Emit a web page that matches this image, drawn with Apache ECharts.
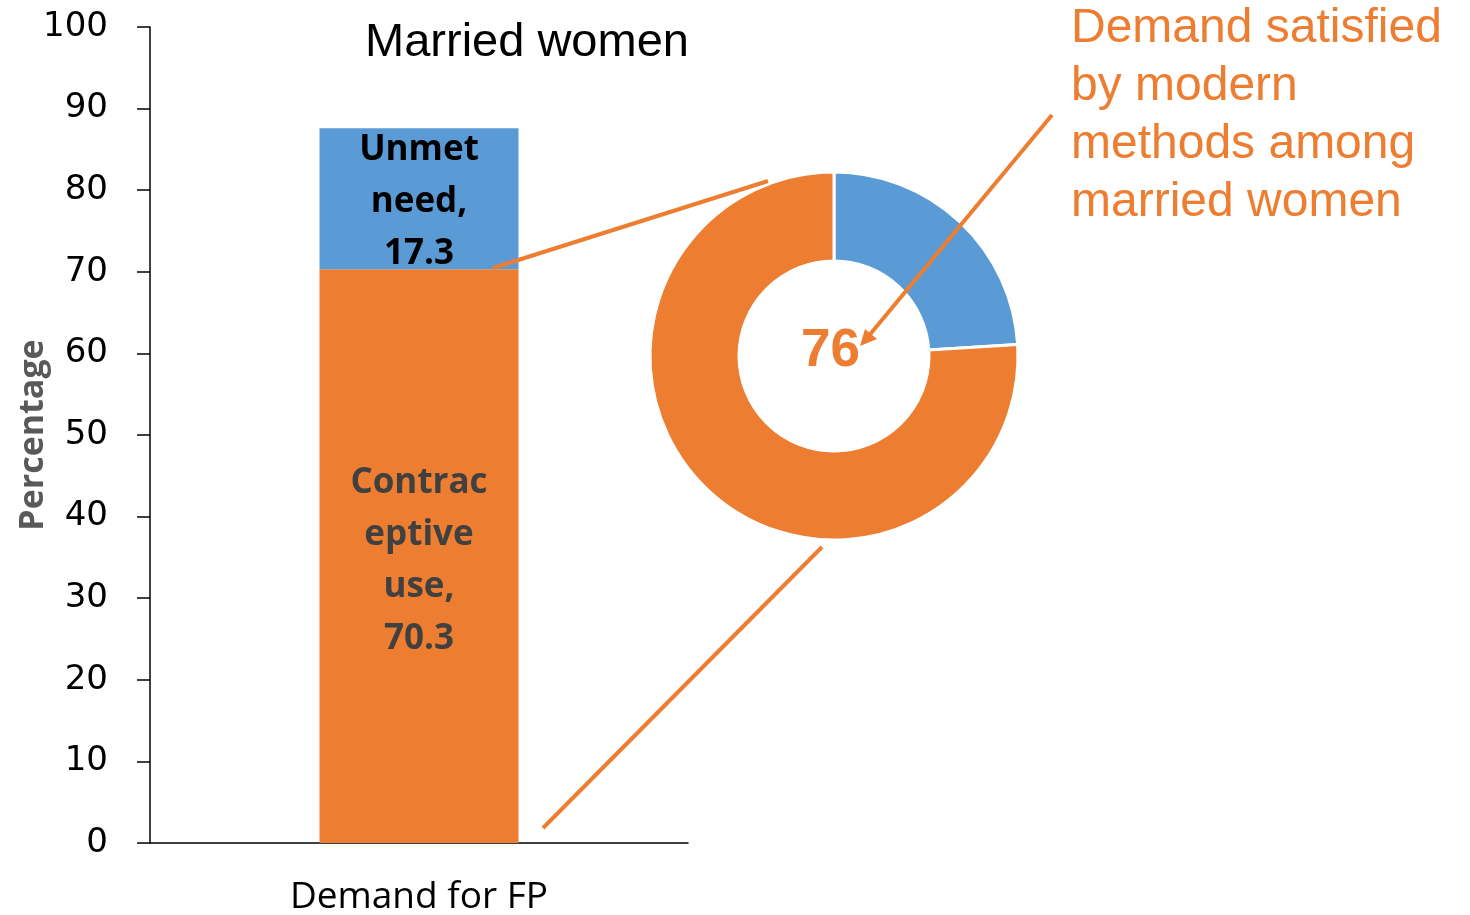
<!DOCTYPE html>
<html>
<head>
<meta charset="utf-8">
<script src="https://cdn.jsdelivr.net/npm/echarts@6/dist/echarts.min.js"></script>
<style>
  html, body { margin: 0; padding: 0; background: #fff; }
  #chart { width: 1470px; height: 915px; }
</style>
</head>
<body>
<div id="chart"></div>
<script>
    // data
    var categories = ['Demand for FP'];
    var contraceptiveUse = [70.3];
    var unmetNeed = [17.3];
    var satisfiedNames = ['Not satisfied', 'Satisfied by modern methods'];
    var satisfiedValues = [24, 76];

    var orange = '#ED7D31';
    var blue = '#5B9BD5';

    var myChart = echarts.init(document.getElementById('chart'));

    var option = {
        backgroundColor: '#fff',
        animation: false,
        title: {
            text: 'Married women',
            left: 522,
            top: 15,
            textAlign: 'center',
            textStyle: { fontFamily: 'Liberation Sans', fontSize: 47, fontWeight: 'normal', color: '#000' }
        },
        grid: { left: 150, right: 782, top: 27, bottom: 72, outerBoundsMode: 'none' },
        xAxis: {
            type: 'category',
            data: categories,
            axisLine: { lineStyle: { color: '#000', width: 1.5 } },
            axisTick: { show: false },
            axisLabel: { fontFamily: 'Open Sans', fontSize: 37, color: '#000', margin: 36 }
        },
        yAxis: {
            type: 'value',
            min: 0,
            max: 100,
            interval: 10,
            name: 'Percentage',
            nameLocation: 'middle',
            nameGap: 100,
            nameMoveOverlap: false,
            nameTextStyle: { fontFamily: 'Open Sans', fontSize: 34, fontWeight: 'bold', color: '#595959' },
            splitLine: { show: false },
            axisLine: { show: true, lineStyle: { color: '#000', width: 1.5 } },
            axisTick: { show: true, length: 13, lineStyle: { color: '#000', width: 1.5 } },
            axisLabel: { fontFamily: 'DejaVu Sans', fontSize: 34, color: '#000', margin: 42, padding: [8, 0, 0, 0] }
        },
        series: [
            {
                name: 'Contraceptive use',
                type: 'bar',
                stack: 'demand',
                barWidth: 199,
                data: contraceptiveUse,
                itemStyle: { color: orange },
                label: {
                    show: true,
                    position: 'inside',
                    formatter: function (p) { return 'Contrac\neptive\nuse,\n' + p.value; },
                    fontFamily: 'Open Sans',
                    fontSize: 35,
                    fontWeight: 'bold',
                    lineHeight: 52,
                    color: '#404040',
                    offset: [0, 5]
                }
            },
            {
                name: 'Unmet need',
                type: 'bar',
                stack: 'demand',
                barWidth: 199,
                data: unmetNeed,
                itemStyle: { color: blue },
                label: {
                    show: true,
                    position: 'inside',
                    formatter: function (p) { return 'Unmet\nneed,\n' + p.value; },
                    fontFamily: 'Open Sans',
                    fontSize: 35,
                    fontWeight: 'bold',
                    lineHeight: 52,
                    color: '#000',
                    offset: [0, 3]
                }
            },
            {
                name: 'Demand satisfied',
                type: 'pie',
                center: [834, 356],
                radius: [95, 184],
                startAngle: 90,
                clockwise: true,
                label: { show: false },
                labelLine: { show: false },
                itemStyle: { borderColor: '#fff', borderWidth: 3 },
                data: satisfiedNames.map(function (n, i) {
                    return { name: n, value: satisfiedValues[i], itemStyle: { color: i === 0 ? blue : orange } };
                })
            }
        ],
        graphic: [
            // connectors from the bar to the donut
            { type: 'line', z: 100, shape: { x1: 493, y1: 268, x2: 768, y2: 181 }, style: { stroke: orange, lineWidth: 4 } },
            { type: 'line', z: 100, shape: { x1: 543, y1: 828, x2: 822, y2: 547 }, style: { stroke: orange, lineWidth: 4 } },
            // arrow pointing at the donut centre
            { type: 'line', z: 100, shape: { x1: 1052, y1: 115, x2: 867, y2: 338 }, style: { stroke: orange, lineWidth: 4 } },
            { type: 'polygon', z: 100, shape: { points: [[860, 346], [877, 339], [865, 329]] }, style: { fill: orange } },
            {
                type: 'text',
                z: 100,
                left: 801,
                top: 325,
                style: {
                    text: String(satisfiedValues[1]),
                    fontFamily: 'Liberation Sans',
                    fontSize: 53,
                    fontWeight: 'bold',
                    fill: orange
                }
            },
            {
                type: 'text',
                z: 100,
                left: 1071,
                top: 0,
                style: {
                    text: 'Demand satisfied\nby modern\nmethods among\nmarried women',
                    fontFamily: 'Liberation Sans',
                    fontSize: 48,
                    lineHeight: 58,
                    fill: orange
                }
            }
        ]
    };

    myChart.setOption(option);
</script>
</body>
</html>
